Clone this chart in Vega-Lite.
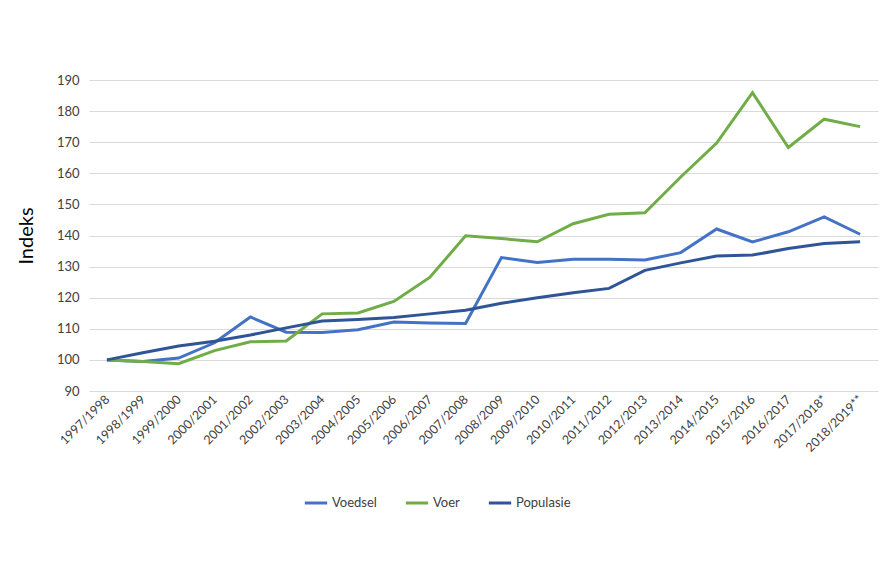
{
  "$schema": "https://vega.github.io/schema/vega-lite/v6.json",
  "width": 789,
  "height": 311,
  "autosize": {"type": "none"},
  "padding": {"left": 89, "top": 80, "right": 12, "bottom": 172},
  "background": "white",
  "config": {"view": {"stroke": null}, "font": "Lato"},
  "datasets": {
    "rows": [
      {"periode": "1997/1998", "Voedsel": 100, "Voer": 100, "Populasie": 100},
      {"periode": "1998/1999", "Voedsel": 99.5, "Voer": 99.5, "Populasie": 102.3},
      {"periode": "1999/2000", "Voedsel": 100.6, "Voer": 98.8, "Populasie": 104.5},
      {"periode": "2000/2001", "Voedsel": 105.5, "Voer": 103, "Populasie": 106},
      {"periode": "2001/2002", "Voedsel": 113.8, "Voer": 105.8, "Populasie": 108},
      {"periode": "2002/2003", "Voedsel": 108.9, "Voer": 106.1, "Populasie": 110.3},
      {"periode": "2003/2004", "Voedsel": 108.8, "Voer": 114.8, "Populasie": 112.5},
      {"periode": "2004/2005", "Voedsel": 109.7, "Voer": 115.1, "Populasie": 113},
      {"periode": "2005/2006", "Voedsel": 112.2, "Voer": 118.8, "Populasie": 113.6},
      {"periode": "2006/2007", "Voedsel": 111.9, "Voer": 126.5, "Populasie": 114.8},
      {"periode": "2007/2008", "Voedsel": 111.7, "Voer": 139.9, "Populasie": 116},
      {"periode": "2008/2009", "Voedsel": 132.9, "Voer": 139, "Populasie": 118.2},
      {"periode": "2009/2010", "Voedsel": 131.3, "Voer": 138, "Populasie": 120},
      {"periode": "2010/2011", "Voedsel": 132.4, "Voer": 143.8, "Populasie": 121.6},
      {"periode": "2011/2012", "Voedsel": 132.4, "Voer": 146.8, "Populasie": 123},
      {"periode": "2012/2013", "Voedsel": 132.1, "Voer": 147.3, "Populasie": 128.8},
      {"periode": "2013/2014", "Voedsel": 134.5, "Voer": 158.8, "Populasie": 131.2},
      {"periode": "2014/2015", "Voedsel": 142.1, "Voer": 169.7, "Populasie": 133.4},
      {"periode": "2015/2016", "Voedsel": 137.9, "Voer": 185.9, "Populasie": 133.7},
      {"periode": "2016/2017", "Voedsel": 141.2, "Voer": 168.3, "Populasie": 135.8},
      {"periode": "2017/2018*", "Voedsel": 146, "Voer": 177.4, "Populasie": 137.4},
      {"periode": "2018/2019**", "Voedsel": 140.4, "Voer": 175, "Populasie": 138}
    ]
  },
  "data": {"name": "rows"},
  "transform": [
    {"fold": ["Voedsel", "Voer", "Populasie"], "as": ["reeks", "waarde"]}
  ],
  "mark": {"type": "line", "strokeWidth": 3, "strokeJoin": "miter"},
  "encoding": {
    "x": {
      "field": "periode",
      "type": "ordinal",
      "sort": null,
      "scale": {"type": "point", "padding": 0.5},
      "axis": {
        "title": null,
        "labelAngle": -45,
        "labelAlign": "right",
        "labelBaseline": "middle",
        "labelFontSize": 12.5,
        "labelColor": "#404040",
        "labelPadding": 6,
        "domain": false,
        "ticks": false,
        "grid": false
      }
    },
    "y": {
      "field": "waarde",
      "type": "quantitative",
      "scale": {"domain": [90, 190], "nice": false, "zero": false},
      "axis": {
        "title": "Indeks",
        "titleFontSize": 20,
        "titleFontWeight": "normal",
        "titleColor": "#000000",
        "titlePadding": 20,
        "values": [90, 100, 110, 120, 130, 140, 150, 160, 170, 180, 190],
        "labelFontSize": 13,
        "labelColor": "#404040",
        "labelPadding": 10,
        "domain": false,
        "ticks": false,
        "grid": true,
        "gridColor": "#d9d9d9",
        "gridWidth": 1
      }
    },
    "color": {
      "field": "reeks",
      "type": "nominal",
      "scale": {
        "domain": ["Voedsel", "Voer", "Populasie"],
        "range": ["#4472C4", "#70AD47", "#2F5597"]
      },
      "legend": {
        "title": null,
        "orient": "none",
        "direction": "horizontal",
        "legendX": 214,
        "legendY": 410,
        "symbolType": "stroke",
        "symbolStrokeWidth": 3,
        "symbolSize": 500,
        "labelFontSize": 13,
        "labelColor": "#404040",
        "columnPadding": 22,
        "labelOffset": 3
      }
    }
  }
}
